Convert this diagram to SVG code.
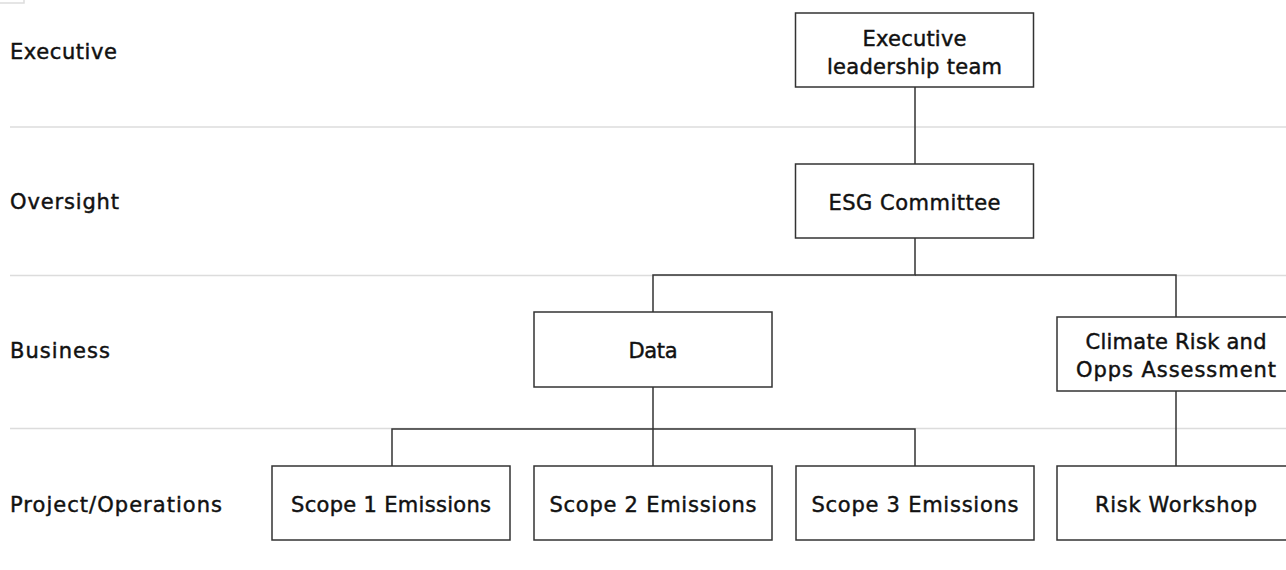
<svg xmlns="http://www.w3.org/2000/svg" width="1286" height="570" viewBox="0 0 1286 570">
<style>
  .bg{fill:#ffffff}
  .sep{stroke:#dcdcdc;stroke-width:1.5;fill:none}
  .box{fill:#ffffff;stroke:#333333;stroke-width:1.5}
  .conn{stroke:#333333;stroke-width:1.5;fill:none}
  text{font-family:"DejaVu Sans","Liberation Sans",Arial,sans-serif;font-size:21px;fill:#111111;stroke:#111111;stroke-width:0.45px;paint-order:stroke}
  .lab{text-anchor:start}
  .ctr{text-anchor:middle}
</style>
<rect class="bg" x="0" y="0" width="1286" height="570"/>
<rect x="-10" y="-10" width="34" height="13" fill="#ffffff" stroke="#dddddd" stroke-width="1.5"/>

<g id="separators">
  <line class="sep" x1="10" y1="127" x2="1286" y2="127"/>
  <line class="sep" x1="10" y1="275.5" x2="1286" y2="275.5"/>
  <line class="sep" x1="10" y1="428.5" x2="1286" y2="428.5"/>
</g>

<g id="row-labels">
  <text class="lab" x="10" y="59" textLength="107" lengthAdjust="spacing">Executive</text>
  <text class="lab" x="10" y="209" textLength="109" lengthAdjust="spacing">Oversight</text>
  <text class="lab" x="10" y="358" textLength="100" lengthAdjust="spacing">Business</text>
  <text class="lab" x="10" y="511.5" textLength="212" lengthAdjust="spacing">Project/Operations</text>
</g>

<g id="connectors">
  <line class="conn" x1="915" y1="87" x2="915" y2="164"/>
  <polyline class="conn" points="915,238 915,275 653,275 653,312"/>
  <polyline class="conn" points="915,275 1176,275 1176,317"/>
  <polyline class="conn" points="653,387 653,466"/>
  <polyline class="conn" points="392,466 392,429 915,429 915,466"/>
  <line class="conn" x1="1176" y1="391" x2="1176" y2="466"/>
</g>

<g id="node-executive">
  <rect class="box" x="795.5" y="13" width="238" height="74"/>
  <text class="ctr" x="914.5" y="46" textLength="104" lengthAdjust="spacing">Executive</text>
  <text class="ctr" x="914.5" y="74" textLength="175" lengthAdjust="spacing">leadership team</text>
</g>

<g id="node-esg">
  <rect class="box" x="795.5" y="164" width="238" height="74"/>
  <text class="ctr" x="914.5" y="209.5" textLength="172" lengthAdjust="spacing">ESG Committee</text>
</g>

<g id="node-data">
  <rect class="box" x="534" y="312" width="238" height="75"/>
  <text class="ctr" x="653" y="358" textLength="49" lengthAdjust="spacing">Data</text>
</g>

<g id="node-climate">
  <rect class="box" x="1057" y="317" width="238" height="74"/>
  <text class="ctr" x="1176" y="349" textLength="181" lengthAdjust="spacing">Climate Risk and</text>
  <text class="ctr" x="1176" y="376.5" textLength="200" lengthAdjust="spacing">Opps Assessment</text>
</g>

<g id="node-scope1">
  <rect class="box" x="272" y="466" width="238" height="74"/>
  <text class="ctr" x="391" y="511.5" textLength="200" lengthAdjust="spacing">Scope 1 Emissions</text>
</g>

<g id="node-scope2">
  <rect class="box" x="534" y="466" width="238" height="74"/>
  <text class="ctr" x="653" y="511.5" textLength="207" lengthAdjust="spacing">Scope 2 Emissions</text>
</g>

<g id="node-scope3">
  <rect class="box" x="796" y="466" width="238" height="74"/>
  <text class="ctr" x="915" y="511.5" textLength="207" lengthAdjust="spacing">Scope 3 Emissions</text>
</g>

<g id="node-risk-workshop">
  <rect class="box" x="1057" y="466" width="238" height="74"/>
  <text class="ctr" x="1176" y="511.5" textLength="162" lengthAdjust="spacing">Risk Workshop</text>
</g>
</svg>
